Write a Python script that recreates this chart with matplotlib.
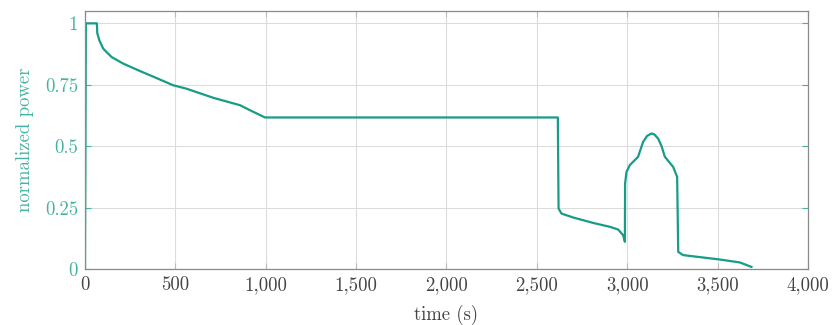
import matplotlib
matplotlib.use("Agg")
import matplotlib.pyplot as plt

plt.rcParams['font.family'] = ['cmr10', 'DejaVu Serif']
plt.rcParams['axes.unicode_minus'] = False

# power trace
time_s = [0, 5, 66, 68, 80, 101, 147, 212, 304, 378, 488, 562, 710, 857, 931, 996,
          2616, 2620, 2636, 2701, 2811, 2904, 2950, 2977, 2987, 2988, 2996, 3014,
          3060, 3075, 3088, 3110, 3134, 3150, 3171, 3190, 3208, 3254, 3276, 3282,
          3309, 3512, 3623, 3687]
power = [0, 1.0, 1.0, 0.96, 0.93, 0.897, 0.863, 0.836, 0.806, 0.783, 0.748, 0.734,
         0.697, 0.667, 0.640, 0.617, 0.617, 0.247, 0.226, 0.210, 0.188, 0.172,
         0.161, 0.138, 0.111, 0.348, 0.396, 0.423, 0.457, 0.49, 0.518, 0.542,
         0.552, 0.548, 0.531, 0.50, 0.457, 0.416, 0.375, 0.070, 0.057, 0.039,
         0.027, 0.009]

x_ticks = [0, 500, 1000, 1500, 2000, 2500, 3000, 3500, 4000]
x_labels = ['0', '500', '1,000', '1,500', '2,000', '2,500', '3,000', '3,500', '4,000']
y_ticks = [0, 0.25, 0.5, 0.75, 1]
y_labels = ['0', '0.25', '0.5', '0.75', '1']

teal = '#179c85'
teal_txt = '#45b3a2'
grey = '#444444'

fig = plt.figure(figsize=(8.33, 3.25), dpi=100)
ax = fig.add_axes([0.102, 0.172, 0.868, 0.794])

ax.plot(time_s, power, color=teal, linewidth=1.6, solid_joinstyle='round')

ax.set_xlim(0, 4000)
ax.set_ylim(0, 1.05)
ax.set_xticks(x_ticks)
ax.set_xticklabels(x_labels)
ax.set_yticks(y_ticks)
ax.set_yticklabels(y_labels)

ax.grid(True, color='#dcdcdc', linewidth=0.8)
ax.set_axisbelow(True)
for s in ax.spines.values():
    s.set_color('#8a8a8a')
    s.set_linewidth(0.9)

ax.tick_params(axis='x', direction='in', top=True, length=4, color='#bbbbbb',
               labelsize=13.5, labelcolor=grey, pad=5)
ax.tick_params(axis='y', direction='in', right=True, length=4, color=teal_txt,
               labelsize=13.5, labelcolor=teal_txt, pad=5)

ax.set_xlabel('time (s)', fontsize=13.5, color=grey, labelpad=8)
ax.set_ylabel('normalized power', fontsize=13.5, color=teal_txt, labelpad=8)

fig.savefig('out.png', dpi=100)
